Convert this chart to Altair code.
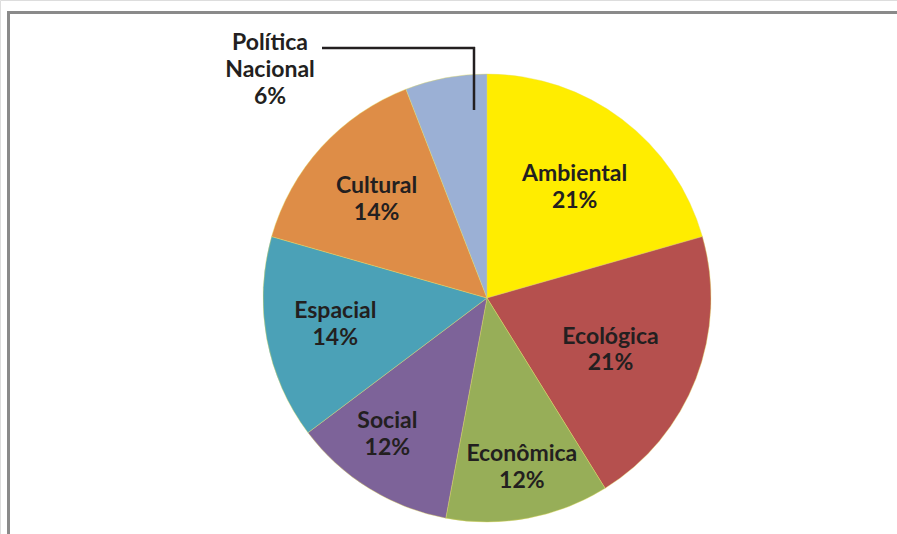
import altair as alt
import pandas as pd

categories = ["Ambiental", "Ecológica", "Econômica", "Social", "Espacial", "Cultural", "Política Nacional"]
# share of the circle occupied by each slice
shares = [20.6, 20.6, 11.8, 11.8, 14.7, 14.7, 5.9]
# percentage printed on each slice
pct_labels = [21, 21, 12, 12, 14, 14, 6]
colors = ["#FFED00", "#B5504E", "#97AE58", "#7D6399", "#4BA1B7", "#DE8D47", "#9BB0D5"]

# layout: label distance from pie centre (px; 0 = labelled outside) and angular nudge (deg)
label_radius = [141, 134, 173, 169, 154, 148, 0]
label_nudge = [1.4, 1.7, -1.0, 4.3, 0.7, -0.6, 0]

df = pd.DataFrame({
    "category": categories,
    "value": shares,
    "order": list(range(len(categories))),
    "lr": label_radius,
    "nudge": label_nudge,
})
df["label"] = [c.replace(" ", "\n") + "\n" + f"{v}%" for c, v in zip(categories, pct_labels)]

CX, CY, R = 487, 298, 224
LH = 26.8
FONT = "Lato"
FS = 23
TXT = "#231F20"

base = alt.Chart(df)

pie = base.mark_arc(outerRadius=R, stroke="#E6DE5A", strokeWidth=0.4).encode(
    theta=alt.Theta("value:Q", stack=True),
    color=alt.Color("category:N", scale=alt.Scale(domain=categories, range=colors), legend=None),
    order=alt.Order("order:Q"),
    x=alt.value(CX),
    y=alt.value(CY),
)

labels = base.transform_joinaggregate(
    total="sum(value)"
).transform_window(
    cum="sum(value)", sort=[alt.SortField("order")], frame=[None, 0]
).transform_filter(
    alt.datum.lr > 0
).transform_calculate(
    ang="(datum.cum - datum.value / 2) / datum.total * 2 * PI + datum.nudge * PI / 180",
).transform_calculate(
    px=f"{CX} + datum.lr * sin(datum.ang)",
    py=f"{CY} - datum.lr * cos(datum.ang) - {LH / 2}",
).mark_text(
    font=FONT, fontSize=FS, fontWeight="bold", color=TXT,
    lineBreak="\n", lineHeight=LH, align="center", baseline="middle",
).encode(
    x=alt.X("px:Q", scale=None),
    y=alt.Y("py:Q", scale=None),
    text="label:N",
)

pol = base.transform_filter(alt.datum.category == "Política Nacional")

pol_label = pol.mark_text(
    font=FONT, fontSize=FS, fontWeight="bold", color=TXT,
    lineBreak="\n", lineHeight=LH, align="center", baseline="middle",
).encode(text="label:N", x=alt.value(270), y=alt.value(43))

lead_h = pol.mark_rule(color=TXT, strokeWidth=2.5).encode(
    x=alt.value(322), x2=alt.value(475), y=alt.value(48))
lead_v = pol.mark_rule(color=TXT, strokeWidth=2.5).encode(
    x=alt.value(474), y=alt.value(47), y2=alt.value(110))

frame = base.transform_filter(alt.datum.order == 0)
frame_top = frame.mark_rule(color="#8A8A8A", strokeWidth=3).encode(
    x=alt.value(7), x2=alt.value(897), y=alt.value(12.5))
frame_left = frame.mark_rule(color="#8A8A8A", strokeWidth=3).encode(
    x=alt.value(8.5), y=alt.value(11), y2=alt.value(534))

chart = alt.layer(pie, labels, pol_label, lead_h, lead_v, frame_top, frame_left).properties(
    width=897, height=534, padding=0, autosize=alt.AutoSizeParams(type="none"),
).configure_view(stroke=None).configure(background="white")

chart.save("out.html", embed_options={"renderer": "svg", "actions": False})
